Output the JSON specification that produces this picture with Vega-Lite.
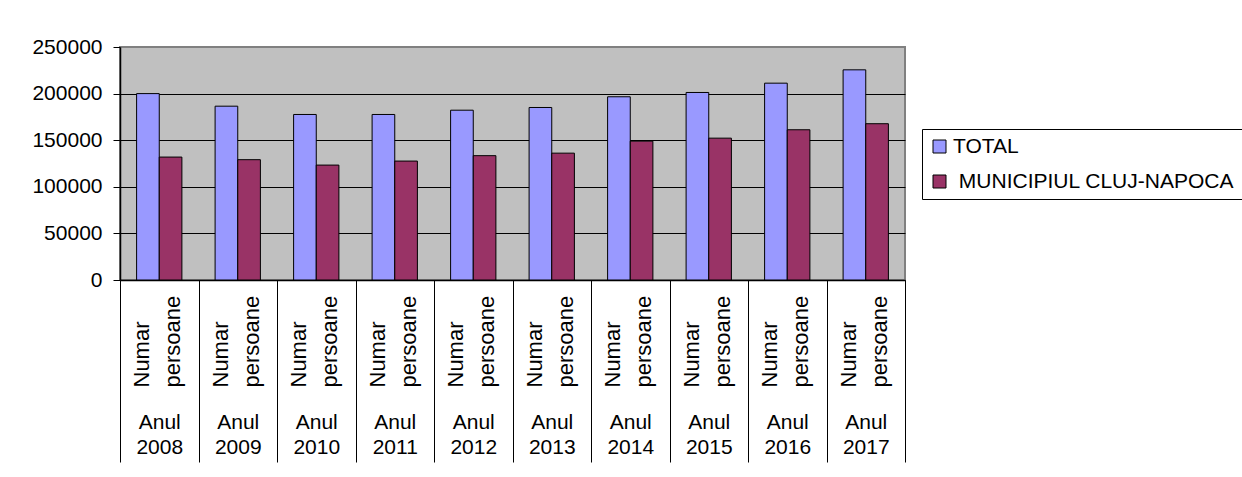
{
  "$schema": "https://vega.github.io/schema/vega-lite/v6.json",
  "width": 785,
  "height": 233,
  "autosize": {"type": "none"},
  "padding": {"left": 120, "top": 47, "right": 337, "bottom": 197},
  "background": "white",
  "config": {
    "font": "Liberation Sans",
    "view": {"fill": "#C0C0C0", "stroke": "#808080", "strokeWidth": 2},
    "axis": {
      "labelFont": "Liberation Sans",
      "labelFontSize": 21,
      "labelColor": "black",
      "labelOverlap": false,
      "labelBound": false,
      "labelFlush": false
    }
  },
  "data": {
    "values": [
      {"year": "2008", "series": "TOTAL", "value": 200000},
      {"year": "2008", "series": "MUNICIPIUL CLUJ-NAPOCA", "value": 131900},
      {"year": "2009", "series": "TOTAL", "value": 186500},
      {"year": "2009", "series": "MUNICIPIUL CLUJ-NAPOCA", "value": 129100},
      {"year": "2010", "series": "TOTAL", "value": 177600},
      {"year": "2010", "series": "MUNICIPIUL CLUJ-NAPOCA", "value": 123300},
      {"year": "2011", "series": "TOTAL", "value": 177600},
      {"year": "2011", "series": "MUNICIPIUL CLUJ-NAPOCA", "value": 127600},
      {"year": "2012", "series": "TOTAL", "value": 182200},
      {"year": "2012", "series": "MUNICIPIUL CLUJ-NAPOCA", "value": 133400},
      {"year": "2013", "series": "TOTAL", "value": 185100},
      {"year": "2013", "series": "MUNICIPIUL CLUJ-NAPOCA", "value": 136100},
      {"year": "2014", "series": "TOTAL", "value": 196600},
      {"year": "2014", "series": "MUNICIPIUL CLUJ-NAPOCA", "value": 149000},
      {"year": "2015", "series": "TOTAL", "value": 201200},
      {"year": "2015", "series": "MUNICIPIUL CLUJ-NAPOCA", "value": 152200},
      {"year": "2016", "series": "TOTAL", "value": 211200},
      {"year": "2016", "series": "MUNICIPIUL CLUJ-NAPOCA", "value": 161200},
      {"year": "2017", "series": "TOTAL", "value": 225500},
      {"year": "2017", "series": "MUNICIPIUL CLUJ-NAPOCA", "value": 167700}
    ]
  },
  "layer": [
    {
      "mark": {"type": "bar", "stroke": "black", "strokeWidth": 1},
      "encoding": {
        "x": {
          "field": "year",
          "type": "nominal",
          "scale": {"paddingInner": 0, "paddingOuter": 0},
          "axis": {
            "orient": "bottom",
            "title": null,
            "grid": false,
            "domain": true,
            "domainColor": "black",
            "domainWidth": 1.5,
            "ticks": true,
            "tickBand": "extent",
            "tickSize": 182,
            "tickColor": "black",
            "tickWidth": 1,
            "labelExpr": "datum.label ? ['Anul', datum.label] : ''",
            "labelAngle": 0,
            "labelAlign": "center",
            "labelBaseline": "alphabetic",
            "labelPadding": -34,
            "labelLineHeight": 25
          }
        },
        "xOffset": {
          "field": "series",
          "type": "nominal",
          "sort": ["TOTAL", "MUNICIPIUL CLUJ-NAPOCA"],
          "scale": {"paddingInner": 0, "paddingOuter": 0.733}
        },
        "y": {
          "field": "value",
          "type": "quantitative",
          "scale": {"domain": [0, 250000], "nice": false},
          "axis": {
            "title": null,
            "values": [0, 50000, 100000, 150000, 200000, 250000],
            "format": "d",
            "domain": true,
            "domainColor": "black",
            "domainWidth": 1.5,
            "ticks": true,
            "tickSize": 7,
            "tickColor": "black",
            "labelPadding": 11,
            "grid": true,
            "gridColor": {"condition": {"test": "datum.value == 250000", "value": "#808080"}, "value": "black"},
            "gridWidth": 1,
            "gridOpacity": 1
          }
        },
        "color": {
          "field": "series",
          "type": "nominal",
          "sort": ["TOTAL", "MUNICIPIUL CLUJ-NAPOCA"],
          "scale": {"domain": ["TOTAL", "MUNICIPIUL CLUJ-NAPOCA"], "range": ["#9999FF", "#993366"]},
          "legend": {
            "orient": "none",
            "legendX": 802,
            "legendY": 82,
            "title": null,
            "direction": "vertical",
            "strokeColor": "black",
            "fillColor": "white",
            "padding": 7,
            "symbolType": "square",
            "symbolSize": 169,
            "symbolStrokeColor": "black",
            "symbolStrokeWidth": 1,
            "symbolOpacity": 1,
            "labelFont": "Liberation Sans",
            "labelFontSize": 21,
            "labelColor": "black",
            "labelOffset": 3,
            "labelLimit": 0,
            "rowPadding": 13,
            "labelExpr": "datum.label == 'TOTAL' ? datum.label : '\u200b\u00a0' + datum.label"
          }
        }
      }
    },
    {
      "mark": {"type": "tick", "opacity": 0},
      "encoding": {
        "x": {
          "field": "year",
          "type": "nominal",
          "axis": {
            "orient": "bottom",
            "title": null,
            "grid": false,
            "domain": false,
            "ticks": false,
            "labelExpr": "['Numar', 'persoane']",
            "labelFontSize": 22,
            "labelAngle": -90,
            "labelAlign": "left",
            "labelBaseline": "middle",
            "labelPadding": 107,
            "labelLineHeight": 31,
            "labelOffset": -17
          }
        }
      }
    }
  ],
  "resolve": {"axis": {"x": "independent"}}
}
